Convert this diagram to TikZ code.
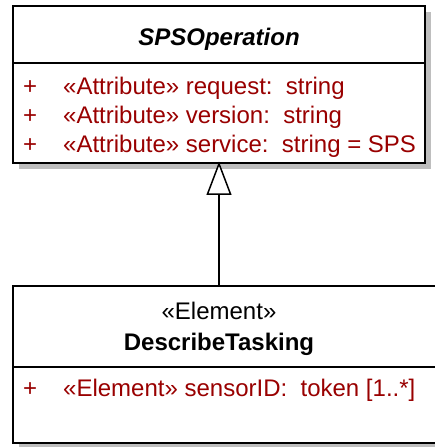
\documentclass[tikz,border=0pt]{standalone}
\usepackage{fontspec}
\setmainfont{Liberation Sans}
\usetikzlibrary{positioning}
\definecolor{attrred}{RGB}{153,0,0}
\definecolor{shadowgray}{RGB}{190,190,190}
\tikzset{
	classbox/.style={draw, line width=1.5pt, fill=white, inner sep=0pt},
	umltext/.style={font=\fontsize{24}{28}\selectfont, inner sep=0pt},
	attr/.style={umltext, text=attrred, anchor=base west},
	umlline/.style={line width=1.5pt}
}
\begin{document}
\begin{tikzpicture}[x=1pt, y=-1pt]
		\useasboundingbox ( 0, 0 ) rectangle ( 435, 447 );

		% класс SPSOperation
		\fill [shadowgray] ( 19, 12 ) rectangle ( 431, 169 );
		\node [classbox, minimum width=412pt, minimum height=157pt] (sps) at ( 219, 84.5 ) {};
		\draw [umlline] ( 13, 63 ) -- ( 425, 63 );
		\node [umltext, font=\fontsize{24}{28}\selectfont\bfseries\itshape, anchor=base] (spsname) at ( 219, 45.5 ) {SPSOperation};
		\node [attr] (plusa) at ( 23, 94 ) {+};
		\node [attr] (attra) at ( 63, 94 ) {«Attribute» request:\ \ string};
		\node [attr] (plusb) at ( 23, 123 ) {+};
		\node [attr] (attrb) at ( 63, 123 ) {«Attribute» version:\ \ string};
		\node [attr] (plusc) at ( 23, 152 ) {+};
		\node [attr] (attrc) at ( 63, 152 ) {«Attribute» service:\ \ string = SPS};

		% класс DescribeTasking (справа обрезан)
		\fill [shadowgray] ( 19, 443 ) rectangle ( 435, 447 );
		\node [fill=white, inner sep=0pt, minimum width=422pt, minimum height=157pt] (describe) at ( 224, 364.5 ) {};
		\draw [umlline] ( 435, 286 ) -- ( 13, 286 ) -- ( 13, 443 ) -- ( 435, 443 );
		\draw [umlline] ( 13, 367 ) -- ( 435, 367 );
		\node [umltext, anchor=base] (stereo) at ( 219, 319 ) {«Element»};
		\node [umltext, font=\fontsize{24}{28}\selectfont\bfseries, anchor=base] (describename) at ( 219, 350 ) {DescribeTasking};
		\node [attr] (plusd) at ( 23, 396.5 ) {+};
		\node [attr] (attrd) at ( 63, 396.5 ) {«Element» sensorID:\ \ token [1..*]};

		% обобщение
		\coordinate (tribase) at ( 219, 194 );
		\draw [umlline] (describe.north-|sps.south) -- (tribase);
		\draw [umlline, fill=white, line join=miter] (sps.south) -- ( 207.5, 194 ) -- ( 230.5, 194 ) -- cycle;
	\end{tikzpicture}
\end{document}
